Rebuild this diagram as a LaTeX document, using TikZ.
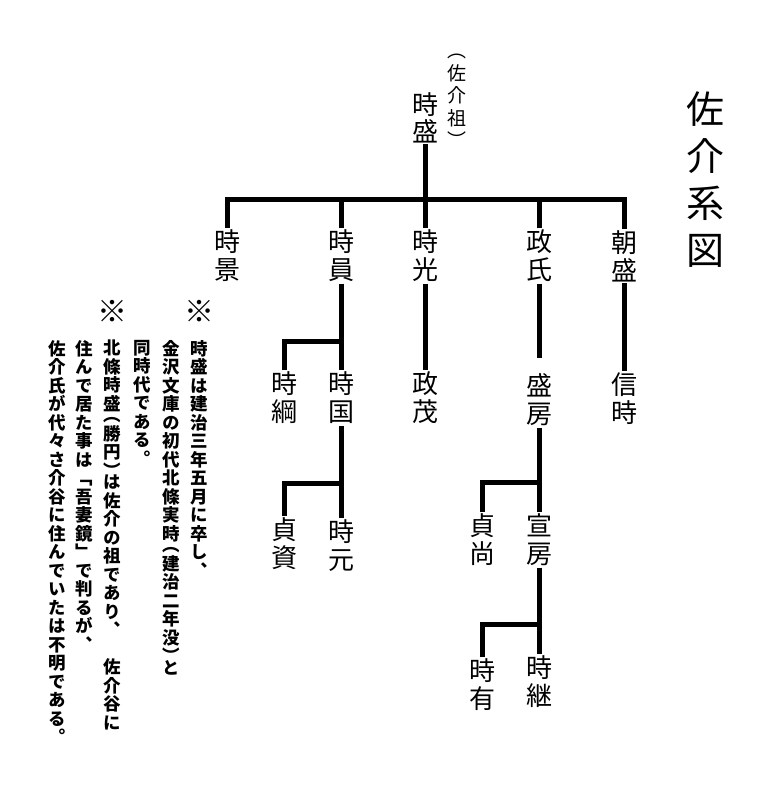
\documentclass[tikz,border=0pt]{standalone}
\usepackage{fontspec}
\newfontfamily\jp[RawFeature=+vert]{Noto Sans CJK JP}
\newdimen\vcolk \vcolk=0pt
\makeatletter
\def\vcol@end{\vcol@end}
\newcommand\vcol[2]{\vbox{\baselineskip=#1\lineskiplimit=-\maxdimen\vcol@#2\vcol@end}}
\def\vcol@box#1{\hbox to 1em{\hss#1\hss}}
\def\vcol@put#1{\ifx#1（\kern-\vcolk\vcol@box{#1}\else\ifx#1）\vcol@box{#1}\kern-\vcolk\else\vcol@box{#1}\fi\fi}
\def\vcol@#1{\ifx#1\vcol@end\else\vcol@put#1\expandafter\vcol@\fi}
\makeatother
\begin{document}
\begin{tikzpicture}[x=1pt,y=-1pt]
\tikzset{
  person/.style={inner sep=1.5pt, font=\jp\fontsize{26pt}{28pt}\selectfont},
  link/.style={line width=5pt, black},
  note/.style={inner sep=0pt, anchor=north, font=\jp\bfseries\fontsize{17.5pt}{18.5pt}\selectfont},
  kome/.style={inner sep=0pt, font=\jp\bfseries\fontsize{30pt}{30pt}\selectfont},
  ttl/.style={inner sep=0pt, font=\jp\fontsize{38pt}{47pt}\selectfont},
  sub/.style={inner sep=0pt, font=\jp\fontsize{19pt}{22.5pt}\selectfont},
}
\fill[white] (0,0) rectangle (780,800);
\useasboundingbox (0,0) rectangle (780,800);

% title
\node[ttl] (title) at (705,180) {\vcol{47pt}{佐介系図}};

% people
\node[person] (tokimori) at (425,117.5) {\vcol{27pt}{時盛}};
\node[sub] (sosen) at (457,101) {\vcol{22.5pt}{（佐介祖）}};

\node[person] (tokikage)  at (227,256) {\vcol{28pt}{時景}};
\node[person] (tokikazu)  at (341,256) {\vcol{28pt}{時員}};
\node[person] (tokimitsu) at (425,256) {\vcol{28pt}{時光}};
\node[person] (masauji)   at (539,256) {\vcol{28pt}{政氏}};
\node[person] (tomomori)  at (624,256) {\vcol{28pt}{朝盛}};

\node[person] (tokitsuna) at (284,398) {\vcol{28pt}{時綱}};
\node[person] (tokikuni)  at (341,398) {\vcol{28pt}{時国}};
\node[person] (masashige) at (425,398) {\vcol{28pt}{政茂}};
\node[person] (morifusa)  at (539,400) {\vcol{28pt}{盛房}};
\node[person] (nobutoki)  at (624,399) {\vcol{28pt}{信時}};

\node[person] (sadasuke)  at (284,544) {\vcol{28pt}{貞資}};
\node[person] (tokimoto)  at (341,546) {\vcol{28pt}{時元}};
\node[person] (sadanao)   at (482,540) {\vcol{28pt}{貞尚}};
\node[person] (nobufusa)  at (539,540) {\vcol{28pt}{宣房}};

\node[person] (tokiari)   at (482,685) {\vcol{28pt}{時有}};
\node[person] (tokitsugu) at (539,682) {\vcol{28pt}{時継}};

% junctions
\coordinate (bar) at (425,199);
\coordinate (b1) at (341,341);
\coordinate (b2) at (341,483);
\coordinate (b3) at (539,482);
\coordinate (b4) at (539,624);
\coordinate (mfgap) at (539,358);

% connectors
\draw[link] (tokimori.south) -- (tokimitsu.north);
\draw[link] (tokikage.north) |- (bar) -| (tomomori.north);
\draw[link] (tokikazu.north) -- (tokikazu.north |- bar);
\draw[link] (masauji.north) -- (masauji.north |- bar);

\draw[link] (tokikazu.south) -- (tokikuni.north);
\draw[link] (tokitsuna.north) |- (b1);
\draw[link] (tokikuni.south) -- (tokimoto.north);
\draw[link] (sadasuke.north) |- (b2);

\draw[link] (tokimitsu.south) -- (masashige.north);

\draw[link] (masauji.south) -- (mfgap);
\draw[link] (morifusa.south) -- (nobufusa.north);
\draw[link] (sadanao.north) |- (b3);
\draw[link] (nobufusa.south) -- (tokitsugu.north);
\draw[link] (tokiari.north) |- (b4);

\draw[link] (tomomori.south) -- (nobutoki.north);

% notes
\node[kome] (kome1) at (199,311.5) {※};
\node[kome] (kome2) at (112,311.5) {※};
\node[note] (n1) at (199,340) {\vcolk=7pt\vcol{18.5pt}{時盛は建治三年五月に卒し、}};
\node[note] (n2) at (171,340) {\vcolk=7pt\vcol{18.5pt}{金沢文庫の初代北條実時（建治二年没）と}};
\node[note] (n3) at (142,340) {\vcolk=7pt\vcol{18.5pt}{同時代である。}};
\node[note] (n4) at (112,340) {\vcolk=7pt\vcol{18.5pt}{北條時盛（勝円）は佐介の祖であり、　佐介谷に}};
\node[note] (n5) at (84,340) {\vcolk=7pt\vcol{18.5pt}{住んで居た事は「吾妻鏡」で判るが、}};
\node[note] (n6) at (57,340) {\vcolk=7pt\vcol{18.5pt}{佐介氏が代々さ介谷に住んでいたは不明である。}};
\end{tikzpicture}
\end{document}
